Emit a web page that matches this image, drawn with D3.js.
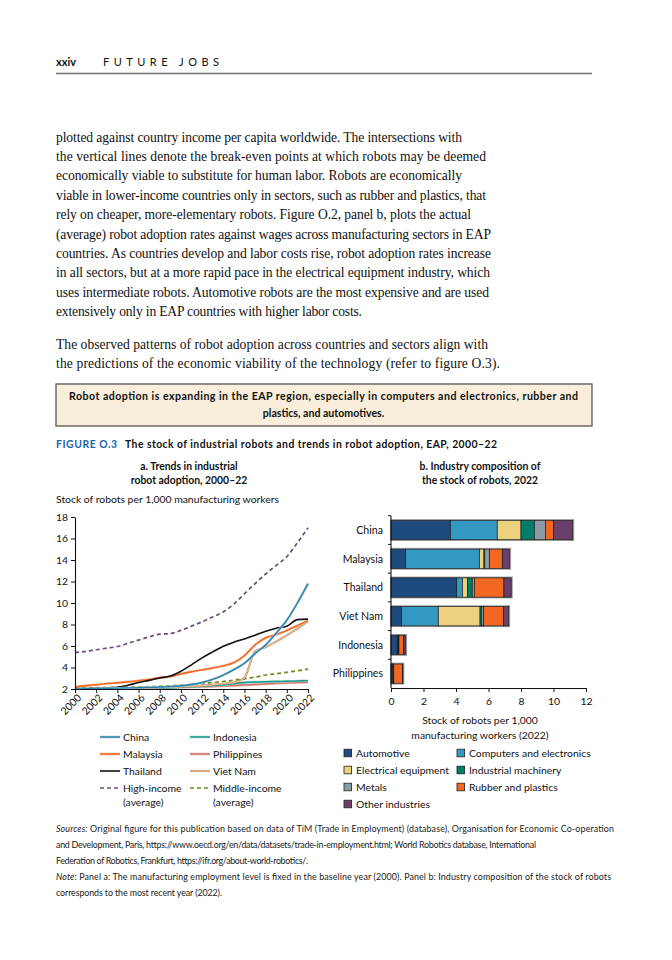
<!DOCTYPE html>
<html><head><meta charset="utf-8">
<script src="https://cdn.jsdelivr.net/npm/d3@7"></script>
<style>body{margin:0;background:#fff} svg{display:block}</style>
</head><body><svg id="page" width="672" height="960"></svg>
<script>
// ---------- DATA ----------
const years = d3.range(2000, 2023);
const chinaLine     = [2.0,2.02,2.04,2.06,2.08,2.1,2.12,2.15,2.18,2.22,2.3,2.42,2.6,2.9,3.3,3.8,4.4,5.3,6.1,7.2,8.4,10.0,11.8];
const indonesiaLine = [1.95,1.96,1.97,1.98,2.0,2.02,2.04,2.06,2.08,2.1,2.15,2.2,2.26,2.33,2.4,2.5,2.6,2.65,2.68,2.7,2.72,2.75,2.78];
const malaysiaLine  = [2.2,2.3,2.4,2.5,2.58,2.67,2.78,2.9,3.05,3.15,3.4,3.6,3.78,3.95,4.15,4.45,5.1,6.1,6.75,7.05,7.45,7.9,8.35];
const philippinesLine = [1.95,1.97,1.99,2.0,2.02,2.04,2.06,2.08,2.1,2.12,2.15,2.18,2.2,2.23,2.27,2.32,2.37,2.42,2.47,2.52,2.56,2.6,2.62];
const thailandLine  = [2.05,2.05,2.08,2.1,2.15,2.35,2.6,2.8,3.02,3.2,3.65,4.25,4.9,5.45,5.97,6.35,6.66,7.0,7.37,7.65,7.84,8.45,8.5];
const vietnamLine   = [1.95,1.97,1.99,2.0,2.02,2.05,2.08,2.1,2.13,2.17,2.2,2.25,2.3,2.4,2.5,2.6,3.05,5.5,5.9,6.4,7.0,7.6,8.3];
const highIncomeLine   = [5.38,5.5,5.65,5.8,5.95,6.25,6.55,6.85,7.1,7.15,7.45,7.85,8.25,8.7,9.17,9.9,10.86,11.8,12.7,13.5,14.3,15.6,17.0];
const middleIncomeLine = [2.1,2.11,2.12,2.13,2.15,2.17,2.19,2.22,2.25,2.3,2.35,2.42,2.5,2.6,2.7,2.82,2.95,3.1,3.3,3.42,3.55,3.7,3.85];
const yTicksA = [2,4,6,8,10,12,14,16,18];
const xTicksA = d3.range(2000, 2023, 2);

const countries = ["China","Malaysia","Thailand","Viet Nam","Indonesia","Philippines"];
const sectors = ["Automotive","Computers and electronics","Electrical equipment","Industrial machinery","Metals","Rubber and plastics","Other industries"];
const automotive = [3.65, 0.9, 4.04, 0.64, 0.39, 0.12];
const computers  = [2.89, 4.54, 0.35, 2.27, 0.03, 0.02];
const electrical = [1.46, 0.28, 0.31, 2.57, 0.02, 0.01];
const machinery  = [0.82, 0.05, 0.30, 0.10, 0.03, 0.01];
const metals     = [0.68, 0.28, 0.13, 0.12, 0.02, 0.01];
const rubber     = [0.49, 0.80, 1.82, 1.23, 0.29, 0.53];
const other      = [1.19, 0.45, 0.45, 0.31, 0.12, 0.03];
const xTicksB = [0,2,4,6,8,10,12];

// ---------- STYLE ----------
const sans = "Lato, 'Open Sans', sans-serif";
const serif = "'Liberation Serif', 'DejaVu Serif', serif";
const sectorColors = ["#1f4a7d","#3399c2","#ecd27f","#007e6a","#8a9da7","#f26822","#6a3f6b"];

const svg = d3.select("#page");
svg.append("rect").attr("width",672).attr("height",960).attr("fill","#fff");

function fit(sel, w){ sel.attr("textLength", w).attr("lengthAdjust","spacing"); return sel; }

// ---------- HEADER ----------
svg.append("text").attr("x",56).attr("y",66).attr("font-family",sans).attr("font-weight",700)
  .attr("font-size",11).attr("fill","#111").text("xxiv");
fit(svg.append("text").attr("x",103).attr("y",66).attr("font-family",sans).attr("font-size",11)
  .attr("fill","#111").text("FUTURE JOBS"),116);
svg.append("line").attr("x1",56).attr("x2",592).attr("y1",73.5).attr("y2",73.5)
  .attr("stroke","#6e6e6e").attr("stroke-width",1.6);

// ---------- BODY TEXT ----------
const para1 = [
 ["plotted against country income per capita worldwide. The intersections with",406],
 ["the vertical lines denote the break-even points at which robots may be deemed",430],
 ["economically viable to substitute for human labor. Robots are economically",406],
 ["viable in lower-income countries only in sectors, such as rubber and plastics, that",430],
 ["rely on cheaper, more-elementary robots. Figure O.2, panel b, plots the actual",415],
 ["(average) robot adoption rates against wages across manufacturing sectors in EAP",435],
 ["countries. As countries develop and labor costs rise, robot adoption rates increase",435],
 ["in all sectors, but at a more rapid pace in the electrical equipment industry, which",434],
 ["uses intermediate robots. Automotive robots are the most expensive and are used",433],
 ["extensively only in EAP countries with higher labor costs.",306]
];
para1.forEach((l,i)=>{
  fit(svg.append("text").attr("x",56).attr("y",141.5+i*19.4).attr("font-family",serif)
    .attr("font-size",13.6).attr("fill","#111").text(l[0]), l[1]);
});
const para2 = [
 ["The observed patterns of robot adoption across countries and sectors align with",432],
 ["the predictions of the economic viability of the technology (refer to figure O.3).",444]
];
para2.forEach((l,i)=>{
  fit(svg.append("text").attr("x",56).attr("y",348.5+i*19.6).attr("font-family",serif)
    .attr("font-size",13.6).attr("fill","#111").text(l[0]), l[1]);
});

// ---------- BOX ----------
svg.append("rect").attr("x",56).attr("y",384).attr("width",536).attr("height",42)
  .attr("fill","#f8eedb").attr("stroke","#555").attr("stroke-width",1.3);
fit(svg.append("text").attr("x",323.5).attr("y",400).attr("text-anchor","middle").attr("font-family",sans)
  .attr("font-weight",700).attr("font-size",10.6).attr("fill","#111")
  .text("Robot adoption is expanding in the EAP region, especially in computers and electronics, rubber and"),509);
svg.append("text").attr("x",323.5).attr("y",417).attr("text-anchor","middle").attr("font-family",sans)
  .attr("font-weight",700).attr("font-size",10.6).attr("fill","#111").text("plastics, and automotives.");

// ---------- FIGURE TITLE ----------
fit(svg.append("text").attr("x",56).attr("y",448).attr("font-family",sans).attr("font-weight",700)
  .attr("font-size",10.4).attr("fill","#1d63ad").text("FIGURE O.3"),61);
fit(svg.append("text").attr("x",125).attr("y",448).attr("font-family",sans).attr("font-weight",700)
  .attr("font-size",10.4).attr("fill","#111").text("The stock of industrial robots and trends in robot adoption, EAP, 2000–22"),372);

// ---------- PANEL TITLES ----------
function centered(x,y,t,opts={}){
  return svg.append("text").attr("x",x).attr("y",y).attr("text-anchor","middle").attr("font-family",sans)
   .attr("font-weight",opts.bold?700:400).attr("font-size",opts.size||10.4).attr("fill","#111").text(t);
}
centered(189,470,"a. Trends in industrial",{bold:true});
centered(189,484,"robot adoption, 2000–22",{bold:true});
centered(480,470,"b. Industry composition of",{bold:true});
centered(480,484,"the stock of robots, 2022",{bold:true});
fit(svg.append("text").attr("x",56).attr("y",503).attr("font-family",sans).attr("font-size",10.4)
  .attr("fill","#111").text("Stock of robots per 1,000 manufacturing workers"),223);

// ---------- PANEL A: LINES ----------
const xa = d3.scaleLinear().domain([2000,2022]).range([75,308]);
const ya = d3.scaleLinear().domain([2,18]).range([689,517]);
const gA = svg.append("g");

const lineSeries = [
 {name:"China", v:chinaLine, color:"#2a80a8", halo:"#a9cadb", w:1.4},
 {name:"Indonesia", v:indonesiaLine, color:"#14998a", halo:"#a8dad3", w:1.4},
 {name:"Malaysia", v:malaysiaLine, color:"#f26822", halo:"#f6b593", w:1.4},
 {name:"Philippines", v:philippinesLine, color:"#d4706a", halo:"#ecbab5", w:1.4},
 {name:"Thailand", v:thailandLine, color:"#111111", w:1.6},
 {name:"Viet Nam", v:vietnamLine, color:"#f2cba4", halo:"#bb8a5e", w:1.0},
 {name:"High-income\n(average)", v:highIncomeLine, color:"#6b4a7c", dash:"4,3", w:1.7},
 {name:"Middle-income\n(average)", v:middleIncomeLine, color:"#6e8c1e", dash:"4,3", w:1.7}
];
const drawOrder = ["Philippines","Indonesia","Middle-income\n(average)","Viet Nam","Malaysia","Thailand","China","High-income\n(average)"];
const lineGen = d3.line().x((d,i)=>xa(years[i])).y(d=>ya(d)).curve(d3.curveMonotoneX);
svg.append("clipPath").attr("id","clipA").append("rect").attr("x",75).attr("y",500).attr("width",240).attr("height",189);
drawOrder.forEach(n=>{
  const s = lineSeries.find(d=>d.name===n);
  if(s.halo){
    gA.append("path").attr("d",lineGen(s.v)).attr("fill","none").attr("stroke",s.halo)
      .attr("stroke-width",s.w+1.0).attr("clip-path","url(#clipA)");
  }
  gA.append("path").attr("d",lineGen(s.v)).attr("fill","none").attr("stroke",s.color)
    .attr("stroke-width",s.w).attr("stroke-dasharray",s.dash||null).attr("clip-path","url(#clipA)");
});

const axA_y = gA.append("g").attr("transform","translate(75,0)")
  .call(d3.axisLeft(ya).tickValues(yTicksA).tickSize(4).tickSizeOuter(0).tickPadding(3));
const axA_x = gA.append("g").attr("transform","translate(0,689)")
  .call(d3.axisBottom(xa).tickValues(xTicksA).tickFormat(d3.format("d")).tickSize(4).tickSizeOuter(0));
axA_x.selectAll("text").attr("x",0).attr("y",0).attr("dy","0.35em")
  .attr("transform","translate(4,7) rotate(-45)").attr("text-anchor","end");
[axA_y,axA_x].forEach(a=>{
  a.selectAll("text").attr("font-family",sans).attr("font-size",10.4).attr("fill","#111");
  a.selectAll("line").attr("stroke","#111");
  a.select(".domain").attr("stroke","#111").attr("stroke-width",1.1);
});

// legend a
const legA = [
 ["China",100,737],["Indonesia",190,737],
 ["Malaysia",100,754],["Philippines",190,754],
 ["Thailand",100,771],["Viet Nam",190,771],
 ["High-income\n(average)",100,788],["Middle-income\n(average)",190,788]
];
legA.forEach(([n,x,y])=>{
  const s = lineSeries.find(d=>d.name===n);
  if(s.halo) gA.append("line").attr("x1",x).attr("x2",x+20).attr("y1",y).attr("y2",y)
      .attr("stroke",s.halo).attr("stroke-width",s.w+1.2);
  gA.append("line").attr("x1",x).attr("x2",x+20).attr("y1",y).attr("y2",y)
      .attr("stroke",s.color).attr("stroke-width",s.w).attr("stroke-dasharray",s.dash||null);
  n.split("\n").forEach((t,k)=>{
    gA.append("text").attr("x",x+23).attr("y",y+3.8+k*14.5).attr("font-family",sans)
      .attr("font-size",10.4).attr("fill","#111").text(t);
  });
});

// ---------- PANEL B: STACKED BARS ----------
const xb = d3.scaleLinear().domain([0,12]).range([391,586]);
const yb = d3.scaleBand().domain(countries).range([515.7,688]).paddingInner(0.33).paddingOuter(0.165);
const gB = svg.append("g");
const table = countries.map((c,i)=>({country:c,
  "Automotive":automotive[i],"Computers and electronics":computers[i],"Electrical equipment":electrical[i],
  "Industrial machinery":machinery[i],"Metals":metals[i],"Rubber and plastics":rubber[i],"Other industries":other[i]}));
const stacked = d3.stack().keys(sectors)(table);
gB.selectAll("rect.bg").data(table).join("rect")
  .attr("x",xb(0)).attr("y",d=>yb(d.country)-0.6)
  .attr("width",d=>xb(d3.sum(sectors,k=>d[k]))-xb(0)+0.8).attr("height",yb.bandwidth()+1.2)
  .attr("fill","none").attr("stroke","#9a9a9a").attr("stroke-width",1.4);
stacked.forEach((layer,li)=>{
  gB.append("g").selectAll("rect").data(layer).join("rect")
    .attr("x",d=>xb(d[0])).attr("y",d=>yb(d.data.country))
    .attr("width",d=>xb(d[1])-xb(d[0])).attr("height",yb.bandwidth())
    .attr("fill",sectorColors[li]).attr("stroke","#1a1a1a").attr("stroke-width",0.7);
});
gB.append("line").attr("x1",391).attr("x2",391).attr("y1",515.7).attr("y2",688).attr("stroke","#111").attr("stroke-width",1.1);
countries.forEach(c=>{
  const t = yb(c) - (yb.step()-yb.bandwidth())/2;
  gB.append("line").attr("x1",388).attr("x2",391).attr("y1",t).attr("y2",t).attr("stroke","#111");
  gB.append("text").attr("x",383).attr("y",yb(c)+yb.bandwidth()/2+3.8).attr("text-anchor","end")
    .attr("font-family",sans).attr("font-size",10.6).attr("fill","#111").text(c);
});
const axB_x = gB.append("g").attr("transform","translate(0,688)")
  .call(d3.axisBottom(xb).tickValues(xTicksB).tickSize(4).tickSizeOuter(0).tickPadding(6));
axB_x.selectAll("text").attr("font-family",sans).attr("font-size",10.4).attr("fill","#111");
axB_x.selectAll("line").attr("stroke","#111");
axB_x.select(".domain").attr("stroke","#111").attr("stroke-width",1.1);
centered(480,724,"Stock of robots per 1,000");
centered(480,739,"manufacturing workers (2022)");

// legend b
const legBpos = [[344,753],[457,753],[344,770],[457,770],[344,787],[457,787],[344,804]];
sectors.forEach((s,i)=>{
  const [x,y] = legBpos[i];
  gB.append("rect").attr("x",x).attr("y",y-3.8).attr("width",7.6).attr("height",7.6)
    .attr("fill",sectorColors[i]).attr("stroke","#222").attr("stroke-width",0.8);
  gB.append("text").attr("x",x+12).attr("y",y+3.8).attr("font-family",sans).attr("font-size",10.4)
    .attr("fill","#111").text(s);
});

// ---------- SOURCES / NOTE ----------
const notes = [
 [["Sources:",true],[" Original figure for this publication based on data of TiM (Trade in Employment) (database), Organisation for Economic Co-operation",false],558],
 [["",false],["and Development, Paris, https://www.oecd.org/en/data/datasets/trade-in-employment.html; World Robotics database, International",false],480],
 [["",false],["Federation of Robotics, Frankfurt, https://ifr.org/about-world-robotics/.",false],252],
 [["Note",true],[": Panel a: The manufacturing employment level is fixed in the baseline year (2000). Panel b: Industry composition of the stock of robots",false],555],
 [["",false],["corresponds to the most recent year (2022).",false],166]
];
notes.forEach((n,i)=>{
  const t = svg.append("text").attr("x",56).attr("y",832+i*16).attr("font-family",sans)
    .attr("font-size",8.9).attr("font-weight",400).attr("fill","#1a1a1a");
  if(n[0][0]) t.append("tspan").attr("font-style","italic").text(n[0][0]);
  t.append("tspan").text(n[1][0]);
  fit(t, n[2]);
});
</script></body></html>
